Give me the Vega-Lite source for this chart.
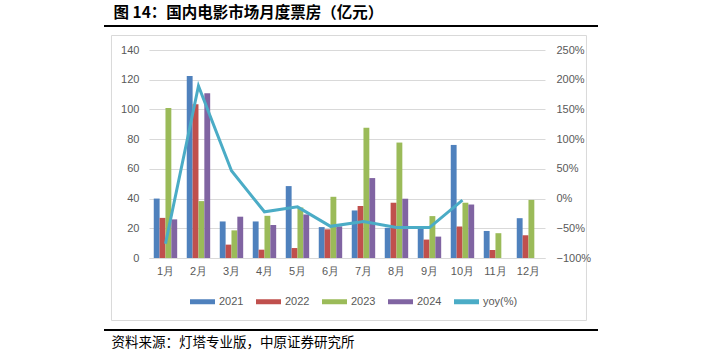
{
  "$schema": "https://vega.github.io/schema/vega-lite/v6.json",
  "background": "white",
  "padding": {"left": 103, "top": 6, "right": 5, "bottom": 5},
  "config": {"font": "Liberation Sans", "view": {"stroke": null}},
  "title": {"text": "图 14：国内电影市场月度票房（亿元）", "anchor": "start", "font": "Noto Sans CJK SC", "fontSize": 15.5, "fontWeight": "bold", "color": "#000000", "dx": 10, "offset": 3},
  "datasets": {
    "bars": [
      {"month": "1月", "series": "2021", "value": 40}, {"month": "1月", "series": "2022", "value": 27}, {"month": "1月", "series": "2023", "value": 101}, {"month": "1月", "series": "2024", "value": 26},
      {"month": "2月", "series": "2021", "value": 122.5}, {"month": "2月", "series": "2022", "value": 103.5}, {"month": "2月", "series": "2023", "value": 38.3}, {"month": "2月", "series": "2024", "value": 110.9},
      {"month": "3月", "series": "2021", "value": 24.6}, {"month": "3月", "series": "2022", "value": 9}, {"month": "3月", "series": "2023", "value": 18.6}, {"month": "3月", "series": "2024", "value": 27.8},
      {"month": "4月", "series": "2021", "value": 24.6}, {"month": "4月", "series": "2022", "value": 5.6}, {"month": "4月", "series": "2023", "value": 28.4}, {"month": "4月", "series": "2024", "value": 22.2},
      {"month": "5月", "series": "2021", "value": 48.4}, {"month": "5月", "series": "2022", "value": 6.7}, {"month": "5月", "series": "2023", "value": 34}, {"month": "5月", "series": "2024", "value": 29.3},
      {"month": "6月", "series": "2021", "value": 20.8}, {"month": "6月", "series": "2022", "value": 19.3}, {"month": "6月", "series": "2023", "value": 41.2}, {"month": "6月", "series": "2024", "value": 21.3},
      {"month": "7月", "series": "2021", "value": 32}, {"month": "7月", "series": "2022", "value": 35}, {"month": "7月", "series": "2023", "value": 87.6}, {"month": "7月", "series": "2024", "value": 53.8},
      {"month": "8月", "series": "2021", "value": 20.3}, {"month": "8月", "series": "2022", "value": 37.2}, {"month": "8月", "series": "2023", "value": 77.7}, {"month": "8月", "series": "2024", "value": 39.9},
      {"month": "9月", "series": "2021", "value": 19.8}, {"month": "9月", "series": "2022", "value": 12.4}, {"month": "9月", "series": "2023", "value": 28.2}, {"month": "9月", "series": "2024", "value": 14.4},
      {"month": "10月", "series": "2021", "value": 76.1}, {"month": "10月", "series": "2022", "value": 21.2}, {"month": "10月", "series": "2023", "value": 37.2}, {"month": "10月", "series": "2024", "value": 36},
      {"month": "11月", "series": "2021", "value": 18.2}, {"month": "11月", "series": "2022", "value": 5.4}, {"month": "11月", "series": "2023", "value": 16.7},
      {"month": "12月", "series": "2021", "value": 26.8}, {"month": "12月", "series": "2022", "value": 15.3}, {"month": "12月", "series": "2023", "value": 39.1}
    ],
    "yoy": [
      {"month": "1月", "yoy": -0.76}, {"month": "2月", "yoy": 1.895}, {"month": "3月", "yoy": 0.4675}, {"month": "4月", "yoy": -0.2225},
      {"month": "5月", "yoy": -0.14}, {"month": "6月", "yoy": -0.4675}, {"month": "7月", "yoy": -0.3875}, {"month": "8月", "yoy": -0.4875},
      {"month": "9月", "yoy": -0.4875}, {"month": "10月", "yoy": -0.025}
    ],
    "blank": [{"k": 1}]
  },
  "vconcat": [
    {
      "width": 494, "height": 2,
      "view": {"stroke": null, "fill": "#000000"},
      "data": {"name": "blank"},
      "mark": "rule",
      "encoding": {}
    },
    {
      "width": 475, "height": 285,
      "view": {"stroke": "#d9d9d9", "strokeWidth": 1},
      "layer": [
        {
          "data": {"name": "bars"},
          "mark": {"type": "bar"},
          "encoding": {
            "x": {"field": "month", "type": "ordinal", "sort": ["1月","2月","3月","4月","5月","6月","7月","8月","9月","10月","11月","12月"],
                  "scale": {"range": [38, 434], "paddingInner": 0.29, "paddingOuter": 0.145},
                  "axis": {"title": null, "orient": "bottom", "offset": -62, "domainColor": "#d9d9d9", "ticks": false, "labelPadding": 7, "labelFont": "Liberation Sans", "labelFontSize": 11, "labelColor": "#595959", "labelAngle": 0, "grid": false}},
            "xOffset": {"field": "series", "type": "nominal", "scale": {"paddingInner": 0, "paddingOuter": 0}},
            "y": {"field": "value", "type": "quantitative", "scale": {"domain": [0, 140], "range": [223, 15], "nice": false},
                  "axis": {"title": null, "values": [0, 20, 40, 60, 80, 100, 120, 140], "offset": -38, "domain": false, "ticks": false, "labelPadding": 10, "grid": true, "gridColor": "#d9d9d9", "labelColor": "#595959", "labelFontSize": 11}},
            "color": {"field": "series", "type": "nominal",
                      "scale": {"domain": ["2021", "2022", "2023", "2024", "yoy(%)"], "range": ["#4F81BD", "#C0504D", "#9BBB59", "#8064A2", "#4BACC6"]},
                      "legend": {"title": null, "orient": "none", "legendX": 86, "legendY": 264, "direction": "horizontal", "columns": 5,
                                 "symbolType": "M-1,-0.2L1,-0.2L1,0.2L-1,0.2Z", "symbolSize": 625, "symbolStrokeWidth": 0,
                                 "labelFontSize": 11, "labelColor": "#595959", "columnPadding": 12, "labelOffset": 4}}
          }
        },
        {
          "data": {"name": "yoy"},
          "mark": {"type": "line", "strokeWidth": 3},
          "encoding": {
            "x": {"field": "month", "type": "ordinal", "sort": ["1月","2月","3月","4月","5月","6月","7月","8月","9月","10月","11月","12月"]},
            "y": {"field": "yoy", "type": "quantitative", "scale": {"domain": [-1, 2.5], "range": [223, 15], "nice": false},
                  "axis": {"orient": "right", "title": null, "values": [-1, -0.5, 0, 0.5, 1, 1.5, 2, 2.5], "format": ".0%", "offset": -41, "domain": false, "ticks": false, "labelPadding": 11, "grid": false, "labelColor": "#595959", "labelFontSize": 11}},
            "color": {"datum": "yoy(%)"}
          }
        }
      ],
      "resolve": {"scale": {"y": "independent"}}
    },
    {
      "width": 494, "height": 2,
      "view": {"stroke": null, "fill": "#000000"},
      "title": {"text": "资料来源：灯塔专业版，中原证券研究所", "orient": "bottom", "anchor": "start", "font": "Noto Sans CJK SC", "fontSize": 13.5, "fontWeight": "normal", "color": "#000000", "dx": 8, "offset": 5},
      "data": {"name": "blank"},
      "mark": "rule",
      "encoding": {}
    }
  ],
  "spacing": 7,
  "center": true
}
